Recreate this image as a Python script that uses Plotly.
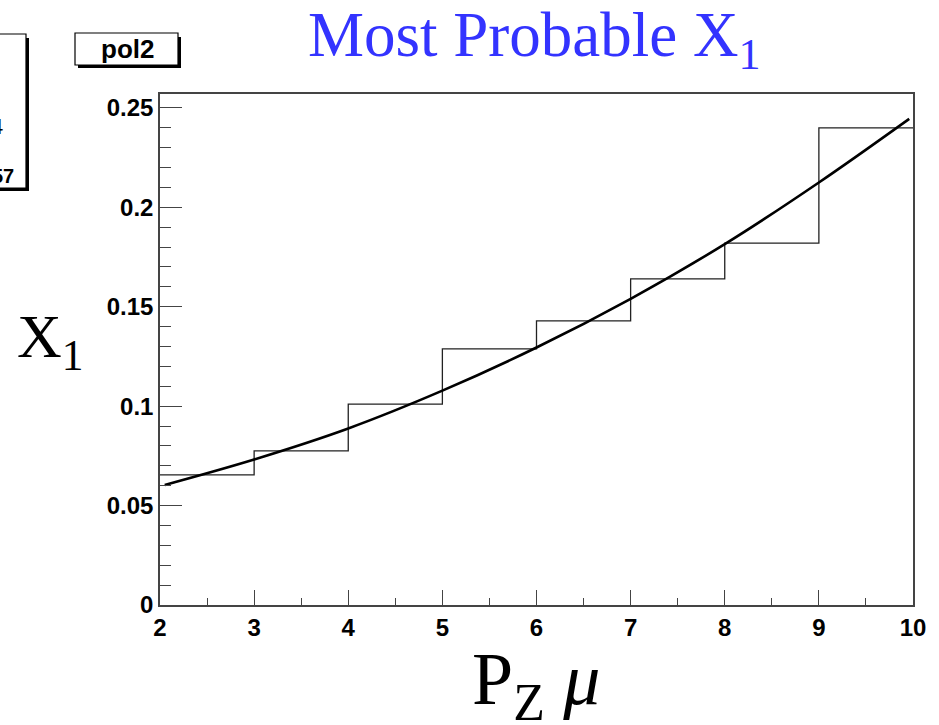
import plotly.graph_objects as go

# ---- data ----
bin_edges = [2, 3, 4, 5, 6, 7, 8, 9, 10]
bin_values = [0.0654, 0.0775, 0.101, 0.1288, 0.1429, 0.164, 0.182, 0.240]

fit_x = [2.05, 3, 4, 5, 6, 7, 8, 9, 9.96]
fit_y = [0.0604, 0.0732, 0.0888, 0.1078, 0.1295, 0.1540, 0.1815, 0.2125, 0.2445]

x_ticks = [2, 3, 4, 5, 6, 7, 8, 9, 10]
y_ticks = [0, 0.05, 0.1, 0.15, 0.2, 0.25]
y_tick_labels = ["0", "0.05", "0.1", "0.15", "0.2", "0.25"]

# ---- layout geometry (pixels) ----
W, H = 939, 725
L, R, T, B = 160, 913, 94, 605


def px(x):
    return (x - L) / (R - L)


def py(y):
    return (B - y) / (B - T)


fig = go.Figure()

fig.add_trace(go.Scatter(
    x=bin_edges, y=bin_values + [bin_values[-1]],
    mode="lines", line=dict(shape="hv", color="#222222", width=1.3),
    showlegend=False, hoverinfo="skip"))

fig.add_trace(go.Scatter(
    x=fit_x, y=fit_y, mode="lines",
    line=dict(shape="spline", color="black", width=2.6),
    showlegend=False, hoverinfo="skip"))

axis_font = dict(family="Liberation Sans, Arial", size=24, color="black")

fig.update_xaxes(
    range=[2, 10], tickvals=x_ticks, ticktext=[str(v) for v in x_ticks],
    ticks="inside", ticklen=15, tickwidth=1.3, tickcolor="#444",
    minor=dict(dtick=0.5, ticks="inside", ticklen=7, tickwidth=1.3, tickcolor="#444"),
    showline=True, linecolor="#444", linewidth=1.5, mirror=True,
    showgrid=False, zeroline=False,
    tickfont=dict(axis_font, weight="bold"))

fig.update_yaxes(
    range=[0, 0.257], tickvals=y_ticks, ticktext=y_tick_labels,
    ticks="inside", ticklen=22, tickwidth=1.3, tickcolor="#444",
    minor=dict(dtick=0.01, ticks="inside", ticklen=11, tickwidth=1.3, tickcolor="#444"),
    showline=True, linecolor="#444", linewidth=1.5, mirror=True,
    showgrid=False, zeroline=False,
    tickfont=dict(axis_font, weight="bold"))

shapes = []
annotations = []

# stats box (mostly off-canvas on the left)
shapes.append(dict(type="rect", xref="paper", yref="paper",
                   x0=px(-60), x1=px(29), y0=py(191), y1=py(38),
                   fillcolor="black", line=dict(width=0), layer="above"))
shapes.append(dict(type="rect", xref="paper", yref="paper",
                   x0=px(-60), x1=px(26), y0=py(188), y1=py(34),
                   fillcolor="white", line=dict(color="black", width=1.2), layer="above"))
annotations.append(dict(xref="paper", yref="paper", x=px(5), y=py(126),
                        xanchor="right", yanchor="middle", showarrow=False,
                        text="4", font=dict(family="Liberation Sans, Arial", size=22, color="black")))
annotations.append(dict(xref="paper", yref="paper", x=px(16), y=py(176),
                        xanchor="right", yanchor="middle", showarrow=False,
                        text="<b>57</b>", font=dict(family="Liberation Sans, Arial", size=20, color="black")))

# pol2 box
shapes.append(dict(type="rect", xref="paper", yref="paper",
                   x0=px(78), x1=px(181), y0=py(68), y1=py(37),
                   fillcolor="black", line=dict(width=0), layer="above"))
shapes.append(dict(type="rect", xref="paper", yref="paper",
                   x0=px(75), x1=px(178), y0=py(65), y1=py(33),
                   fillcolor="white", line=dict(color="black", width=1.2), layer="above"))
annotations.append(dict(xref="paper", yref="paper", x=px(127), y=py(49),
                        xanchor="center", yanchor="middle", showarrow=False,
                        text="<b>pol2</b>", font=dict(family="Liberation Sans, Arial", size=26, color="black")))

# title
annotations.append(dict(xref="paper", yref="paper", x=px(534), y=py(40),
                        xanchor="center", yanchor="middle", showarrow=False,
                        text="Most Probable X<sub>1</sub>",
                        font=dict(family="Liberation Serif, Times New Roman", size=63, color="#3333ff")))

# y title
annotations.append(dict(xref="paper", yref="paper", x=px(50), y=py(340),
                        xanchor="center", yanchor="middle", showarrow=False,
                        text="X<sub>1</sub>",
                        font=dict(family="Liberation Serif, Times New Roman", size=62, color="black")))

# x title
annotations.append(dict(xref="paper", yref="paper", x=px(536), y=py(684),
                        xanchor="center", yanchor="middle", showarrow=False,
                        text="P<sub>Z</sub> <i>μ</i>",
                        font=dict(family="Liberation Serif, Times New Roman", size=74, color="black")))

fig.update_layout(
    width=W, height=H,
    margin=dict(l=L, r=W - R, t=T, b=H - B),
    paper_bgcolor="white", plot_bgcolor="white",
    shapes=shapes, annotations=annotations,
    showlegend=False)

fig.write_html("out.html")
